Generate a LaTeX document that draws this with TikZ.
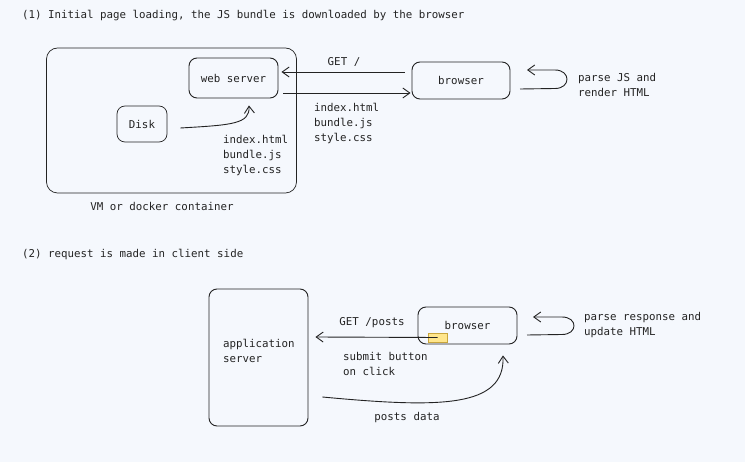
\documentclass[tikz,border=0pt]{standalone}
\usepackage{fontspec}
\setmonofont{DejaVu Sans Mono}
\usetikzlibrary{arrows.meta}
\definecolor{bg}{RGB}{245,248,253}
\definecolor{ink}{RGB}{35,35,35}
\definecolor{hl}{RGB}{255,230,140}
\definecolor{hlline}{RGB}{200,165,60}
\tikzset{
  txt/.style={font=\ttfamily\fontsize{10.8}{15}\selectfont, text=ink, inner sep=0pt, align=left},
  box/.style={draw=ink, line width=0.9pt, rounded corners=8pt, inner sep=0pt},
  conn/.style={draw=ink, line width=0.9pt, -{Straight Barb[length=7pt,width=10pt]}},
}
\begin{document}
\begin{tikzpicture}[x=1pt,y=-1pt]
\useasboundingbox[fill=bg] (0,0) rectangle (745,462);

% titles
\node[txt, anchor=west] (t1) at (22,16) {(1) Initial page loading, the JS bundle is downloaded by the browser};
\node[txt, anchor=west] (t2) at (22,255) {(2) request is made in client side};

% section 1
\node[box, minimum width=250pt, minimum height=145pt, rounded corners=11pt, line width=0.7pt] (vm) at (171.5,120.5) {};
\node[txt, anchor=center] (vml) at (162,206) {VM or docker container};
\node[box, minimum width=89pt, minimum height=40pt, txt] (ws) at (233.5,78) {web server};
\node[box, minimum width=50pt, minimum height=36pt, txt, line width=0.7pt] (disk) at (142,124) {Disk};
\node[box, minimum width=98pt, minimum height=37pt, txt] (b1) at (461,80.5) {browser};

\node[txt, anchor=west] (files1) at (223,155) {index.html\\bundle.js\\style.css};
\node[txt, anchor=west] (files2) at (314,123) {index.html\\bundle.js\\style.css};
\node[txt, anchor=center] (get1) at (344,62) {GET /};
\node[txt, anchor=west] (parse1) at (578,85) {parse JS and\\render HTML};

\draw[conn] ([xshift=-7pt,yshift=8.5pt]b1.west) -- ([xshift=3pt,yshift=6pt]ws.east);
\draw[conn] ([xshift=5pt,yshift=-15pt]ws.east) -- ([xshift=-1pt,yshift=-12.5pt]b1.west);
\draw[conn] ([xshift=13pt,yshift=-4pt]disk.east) .. controls (232,125) and (250,124) .. ([xshift=15.5pt,yshift=-7pt]ws.south);

\coordinate (l1s) at (520,89);
\coordinate (l1e) at (527,70);
\draw[conn] (l1s) -- (555,88.5) .. controls (571,88.5) and (571,70) .. (555,70) -- (l1e);

% section 2
\node[box, minimum width=99pt, minimum height=137pt] (app) at (258.5,357.5) {};
\node[txt, anchor=west] (appl) at (223,350.5) {application\\server};
\node[box, minimum width=99pt, minimum height=37pt, txt] (b2) at (467.5,325.5) {browser};
\node[draw=hlline, fill=hl, line width=0.6pt, minimum width=19pt, minimum height=9pt, inner sep=0pt] (btn) at (437.5,337.5) {};

\node[txt, anchor=center] (get2) at (372,323) {GET /posts};
\node[txt, anchor=west] (submit) at (343,363.5) {submit button\\on click};
\node[txt, anchor=center] (pd) at (407,418) {posts data};
\node[txt, anchor=west] (parse2) at (584,325) {parse response and\\update HTML};

\draw[conn] (btn.center) -- ([xshift=7pt,yshift=20.5pt]app.east);
\draw[conn] ([xshift=14pt,yshift=-39.5pt]app.east) .. controls (440,408) and (505,408) .. ([xshift=35.5pt,yshift=-11pt]b2.south);

\coordinate (l2s) at (527,335);
\coordinate (l2e) at (533,317);
\draw[conn] (l2s) -- (562,334.5) .. controls (578,334.5) and (578,317) .. (562,317) -- (l2e);
\end{tikzpicture}
\end{document}
